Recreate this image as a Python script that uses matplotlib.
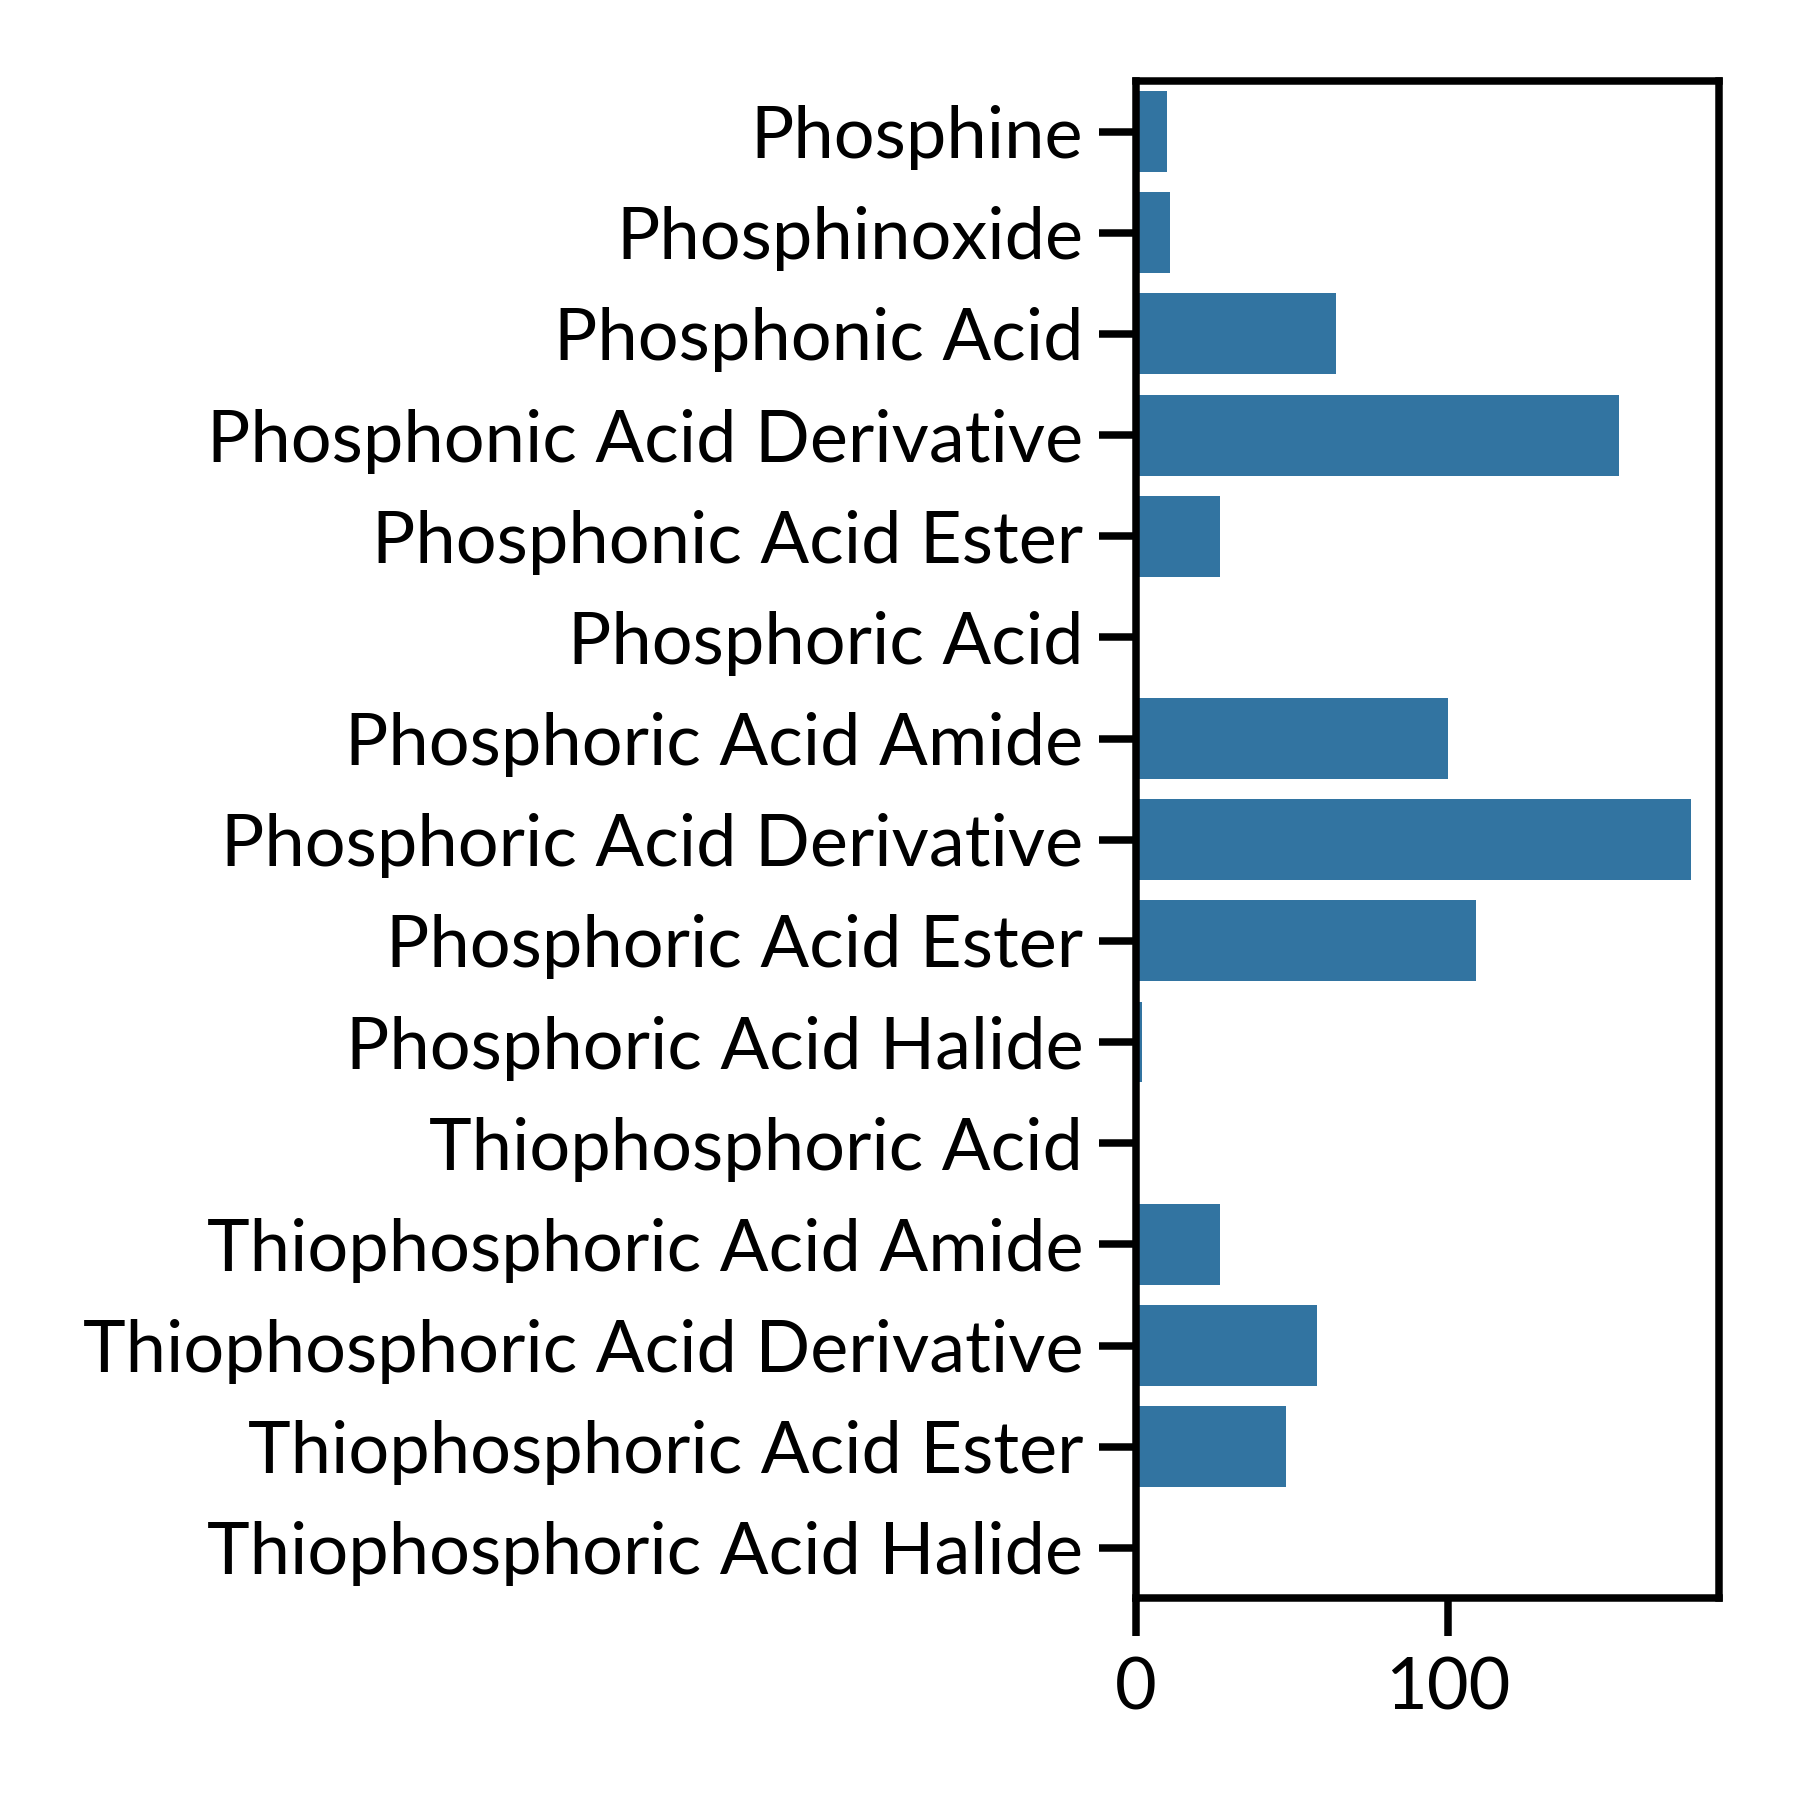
import matplotlib
matplotlib.use('Agg')
import matplotlib.pyplot as plt
import seaborn as sns

categories = ['Phosphine', 'Phosphinoxide', 'Phosphonic Acid',
              'Phosphonic Acid Derivative', 'Phosphonic Acid Ester',
              'Phosphoric Acid', 'Phosphoric Acid Amide',
              'Phosphoric Acid Derivative', 'Phosphoric Acid Ester',
              'Phosphoric Acid Halide', 'Thiophosphoric Acid',
              'Thiophosphoric Acid Amide', 'Thiophosphoric Acid Derivative',
              'Thiophosphoric Acid Ester', 'Thiophosphoric Acid Halide']
counts = [10, 11, 64, 155, 27, 0, 100, 178, 109, 2, 0, 27, 58, 48, 0]
xticks = [0, 100]

sns.set_style('ticks')
plt.rcParams['font.family'] = ['Lato', 'DejaVu Sans']
plt.rcParams['text.color'] = 'black'
plt.rcParams['axes.edgecolor'] = 'black'

fig = plt.figure(figsize=(6, 6), dpi=300)
ax = fig.add_axes([0.631, 0.112, 0.324, 0.843])
ypos = list(range(len(categories)))
ax.barh(ypos, counts, height=0.8, color='#3274a1', linewidth=0)
ax.set_yticks(ypos)
ax.set_yticklabels(categories)
ax.set_ylim(len(categories) - 0.5, -0.5)
ax.set_xticks(xticks)
ax.tick_params(axis='both', length=9, width=1.8, labelsize=17.3, colors='black')
ax.tick_params(axis='y', pad=3.6)
ax.tick_params(axis='x', pad=5)
for s in ax.spines.values():
    s.set_linewidth(1.8)
    s.set_color('black')
fig.savefig('out.png', dpi=300)
